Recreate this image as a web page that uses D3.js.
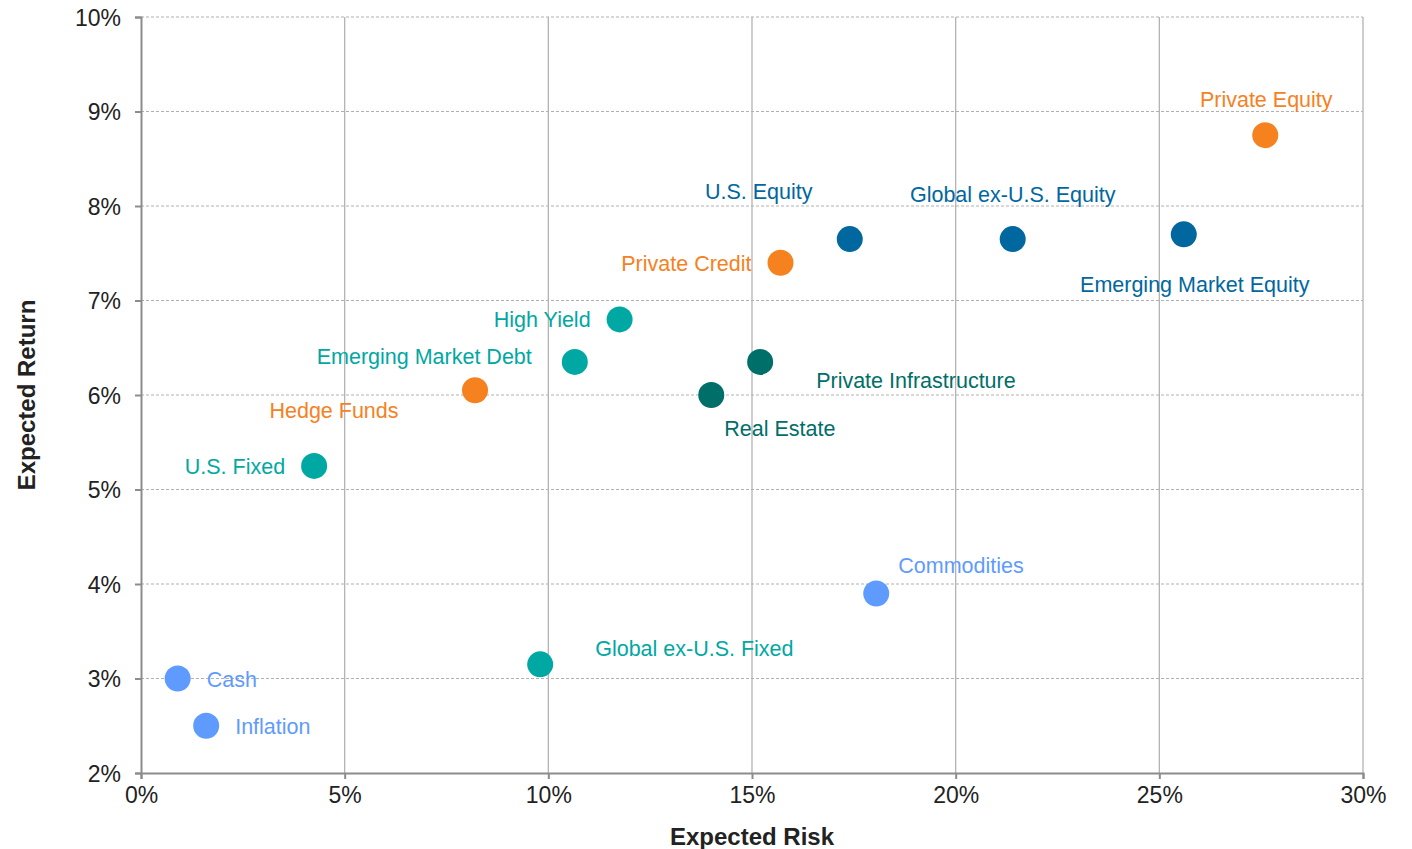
<!DOCTYPE html>
<html>
<head>
<meta charset="utf-8">
<script src="https://cdn.jsdelivr.net/npm/d3@7/dist/d3.min.js"></script>
<style>
  html, body { margin: 0; padding: 0; background: #fff; }
  svg { display: block; font-family: "Liberation Sans", Arial, sans-serif; }
</style>
</head>
<body>
<svg id="chart" width="1412" height="849"></svg>
<script>
// Asset classes: expected risk (%) and expected return (%)
const assets = ["Private Equity", "U.S. Equity", "Global ex-U.S. Equity", "Emerging Market Equity",
  "Private Credit", "High Yield", "Emerging Market Debt", "Private Infrastructure", "Real Estate",
  "Hedge Funds", "U.S. Fixed", "Commodities", "Global ex-U.S. Fixed", "Cash", "Inflation"];
const risk = [27.6, 17.4, 21.4, 25.6, 15.7, 11.75, 10.65, 15.2, 14.0, 8.2, 4.25, 18.05, 9.8, 0.9, 1.6];
const expReturn = [8.75, 7.65, 7.65, 7.7, 7.4, 6.8, 6.35, 6.35, 6.0, 6.05, 5.25, 3.9, 3.15, 3.0, 2.5];
const group = ["alt", "equity", "equity", "equity", "alt", "fixed", "fixed", "real", "real",
  "alt", "fixed", "real-asset", "fixed", "real-asset", "real-asset"];

const xTicks = [0, 5, 10, 15, 20, 25, 30];
const yTicks = [2, 3, 4, 5, 6, 7, 8, 9, 10];

const groupColor = {
  "alt": "#F5821F",
  "equity": "#00679F",
  "fixed": "#00A8A3",
  "real": "#006E69",
  "real-asset": "#5F9BFF"
};

// Label placement relative to each point: [dx, dy, anchor]
const labelPlace = [
  [1, -36, "middle"], [-91, -48, "middle"], [0, -45, "middle"], [11, 50, "middle"],
  [-29, 1, "end"], [-29, 0, "end"], [-43, -5, "end"], [56, 19, "start"], [13, 33, "start"],
  [-141, 20, "middle"], [-29, 1, "end"], [22, -28, "start"], [55, -16, "start"], [29, 1, "start"], [29, 1, "start"]
];

const svg = d3.select("#chart");
const margin = { left: 141, right: 49, top: 17, bottom: 76 };
const W = 1412, H = 849;

const x = d3.scaleLinear().domain([0, 30]).range([margin.left, W - margin.right]);
const y = d3.scaleLinear().domain([2, 10]).range([H - margin.bottom, margin.top]);

// Gridlines
svg.append("g").selectAll("line").data(yTicks.filter(d => d !== 2)).join("line")
  .attr("x1", x(0)).attr("x2", x(30))
  .attr("y1", d => y(d)).attr("y2", d => y(d))
  .attr("stroke", "#b0b0b0").attr("stroke-width", 1).attr("stroke-dasharray", "3,2");
svg.append("g").selectAll("line").data(xTicks.filter(d => d !== 0)).join("line")
  .attr("x1", d => x(d)).attr("x2", d => x(d))
  .attr("y1", y(2)).attr("y2", y(10))
  .attr("stroke", "#b3b3b3").attr("stroke-width", 1.3);

// Axes
const xAxis = d3.axisBottom(x).tickValues(xTicks).tickFormat(d => d + "%").tickSize(6).tickPadding(8);
const yAxis = d3.axisLeft(y).tickValues(yTicks).tickFormat(d => d + "%").tickSize(6).tickPadding(14);

const gx = svg.append("g").attr("transform", `translate(0,${y(2)})`).call(xAxis);
const gy = svg.append("g").attr("transform", `translate(${x(0)},0)`).call(yAxis);
[gx, gy].forEach(g => {
  g.select(".domain").attr("stroke", "#8c8c8c").attr("stroke-width", 2);
  g.selectAll(".tick line").attr("stroke", "#8c8c8c").attr("stroke-width", 2);
  g.selectAll(".tick text").attr("fill", "#222").style("font-size", "23px")
    .style("font-family", "'Liberation Sans', Arial, sans-serif");
});
gy.selectAll(".tick text").attr("dy", "0.35em");

// Axis titles
svg.append("text").attr("x", x(15)).attr("y", 845).attr("text-anchor", "middle")
  .style("font-size", "24px").style("font-weight", "bold").attr("fill", "#222").text("Expected Risk");
svg.append("text").attr("transform", `translate(35,${(y(2) + y(10)) / 2}) rotate(-90)`)
  .attr("text-anchor", "middle")
  .style("font-size", "24px").style("font-weight", "bold").attr("fill", "#222").text("Expected Return");

// Points
const idx = d3.range(assets.length);
svg.append("g").selectAll("circle").data(idx).join("circle")
  .attr("cx", i => x(risk[i])).attr("cy", i => y(expReturn[i])).attr("r", 13)
  .attr("fill", i => groupColor[group[i]]);

// Labels
svg.append("g").selectAll("text").data(idx).join("text")
  .attr("x", i => x(risk[i]) + labelPlace[i][0])
  .attr("y", i => y(expReturn[i]) + labelPlace[i][1])
  .attr("dy", "0.35em")
  .attr("text-anchor", i => labelPlace[i][2])
  .attr("fill", i => groupColor[group[i]])
  .style("font-size", "21.5px")
  .text(i => assets[i]);
</script>
</body>
</html>
